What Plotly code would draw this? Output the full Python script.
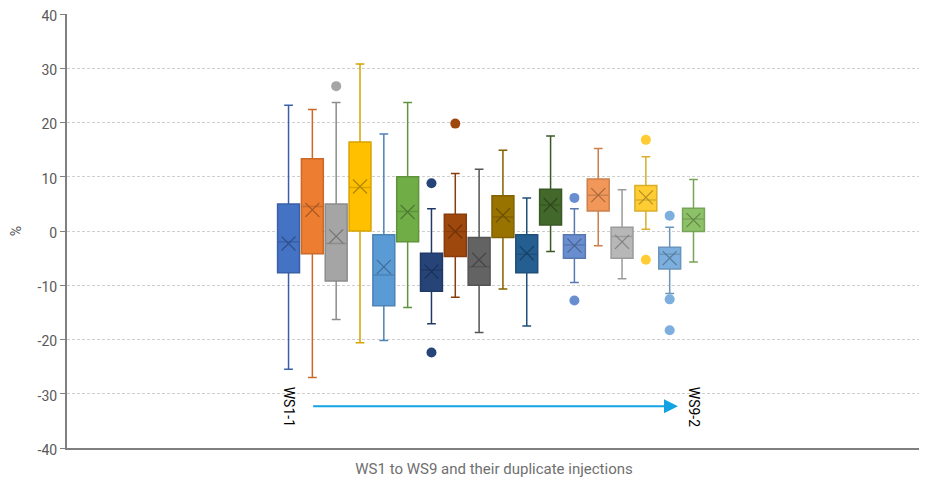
import plotly.graph_objects as go

names = ["WS1-1","WS1-2","WS2-1","WS2-2","WS3-1","WS3-2","WS4-1","WS4-2","WS5-1",
         "WS5-2","WS6-1","WS6-2","WS7-1","WS7-2","WS8-1","WS8-2","WS9-1","WS9-2"]
lower  = [-25.5,-27.0,-16.3,-20.6,-20.2,-14.1,-17.1,-12.2,-18.7,-10.7,-17.5,-3.8,-9.5,-2.7,-8.8,0.3,-11.5,-5.7]
q1     = [-7.7,-4.2,-9.2,0.0,-13.8,-2.0,-11.1,-4.7,-10.0,-1.2,-7.7,1.1,-5.0,3.7,-5.0,3.7,-7.0,-0.1]
median = [-2.0,4.5,-2.3,8.0,-8.1,3.6,-7.2,-0.1,-6.6,2.6,-4.3,4.8,-2.6,6.6,-1.0,5.7,-4.3,2.2]
q3     = [5.0,13.3,5.0,16.4,-0.7,10.0,-4.1,3.1,-1.2,6.5,-0.7,7.7,-0.7,9.6,0.7,8.4,-3.0,4.2]
upper  = [23.2,22.4,23.7,30.8,17.9,23.7,4.1,10.6,11.4,14.9,6.1,17.5,4.1,15.2,7.6,13.7,0.7,9.5]
means  = [-2.3,3.9,-1.0,8.2,-6.6,3.5,-7.5,-0.1,-5.3,2.9,-4.1,4.8,-2.7,6.6,-2.0,6.2,-5.0,2.0]
outliers = [[],[],[26.7],[],[],[],[8.8,-22.4],[19.8],[],[],[],[],[6.1,-12.8],[],[],[16.8,-5.3],[2.8,-12.6,-18.3],[]]
colors = ["#4472C4","#ED7D31","#A5A5A5","#FFC000","#5B9BD5","#70AD47","#264478","#9E480E","#636363",
          "#997300","#255E91","#43682B","#698ED0","#F1975A","#B7B7B7","#FFCD33","#7CAFDD","#8CC168"]
y_ticks = [-40,-30,-20,-10,0,10,20,30,40]
y_tick_labels = [str(v) for v in y_ticks]

def darken(h, f=0.8):
    h = h.lstrip("#")
    r, g, b = (int(h[i:i+2], 16) for i in (0, 2, 4))
    return "rgb(%d,%d,%d)" % (r*f, g*f, b*f)

fig = go.Figure()
for i, n in enumerate(names):
    pos = i + 1
    fig.add_trace(go.Box(
        x=[pos], q1=[q1[i]], median=[median[i]], q3=[q3[i]],
        lowerfence=[lower[i]], upperfence=[upper[i]], name=n,
        width=0.92, whiskerwidth=0.4, fillcolor=colors[i],
        line=dict(color=darken(colors[i], 0.85), width=1.5),
        boxpoints=False, showlegend=False, hoverinfo="skip"))
    fig.add_trace(go.Scatter(
        x=[pos], y=[means[i]], mode="markers", showlegend=False,
        marker=dict(symbol="x-thin", size=14, line=dict(width=1.2, color=darken(colors[i], 0.7)))))
    if outliers[i]:
        fig.add_trace(go.Scatter(
            x=[pos]*len(outliers[i]), y=outliers[i], mode="markers", showlegend=False,
            marker=dict(symbol="circle", size=10, color=colors[i])))

fig.add_annotation(x=1, y=-32.3, xref="x", yref="y", text="WS1-1", textangle=90,
                   showarrow=False, font=dict(size=14, color="#000000"))
fig.add_annotation(x=18, y=-32.3, xref="x", yref="y", text="WS9-2", textangle=90,
                   showarrow=False, font=dict(size=14, color="#000000"))
fig.add_annotation(x=17.35, y=-32.3, ax=1.97, ay=-32.3, xref="x", yref="y", axref="x", ayref="y",
                   text="", showarrow=True, arrowhead=2, arrowsize=1.4, arrowwidth=2,
                   arrowcolor="#12A3E3")

fig.update_layout(
    width=919, height=477,
    margin=dict(l=59, r=6, t=6, b=37),
    paper_bgcolor="white", plot_bgcolor="white",
    boxmode="overlay",
    font=dict(family="Roboto", size=15, color="#595959"),
    xaxis=dict(range=[-8.3, 27.55], showticklabels=False, showgrid=False, zeroline=False,
               automargin=False,
               showline=True, linecolor="#7F7F7F", linewidth=2, ticks="",
               title=dict(text="WS1 to WS9 and their duplicate injections", standoff=14,
                          font=dict(size=15, color="#6F6F6F"))),
    yaxis=dict(range=[-40, 40], tickvals=y_ticks, ticktext=y_tick_labels, ticklabeloverflow="allow",
               automargin=False, tickfont=dict(size=14), ticklabelshift=2,
               showgrid=True, gridcolor="#CFCFCF",
               griddash="3px,2px", gridwidth=1, zeroline=False, showline=True, linecolor="#7F7F7F",
               linewidth=2, ticks="outside", ticklen=5, tickcolor="#7F7F7F",
               title=dict(text="%", standoff=14, font=dict(size=14, color="#595959"))),
)

fig.write_html("out.html")
